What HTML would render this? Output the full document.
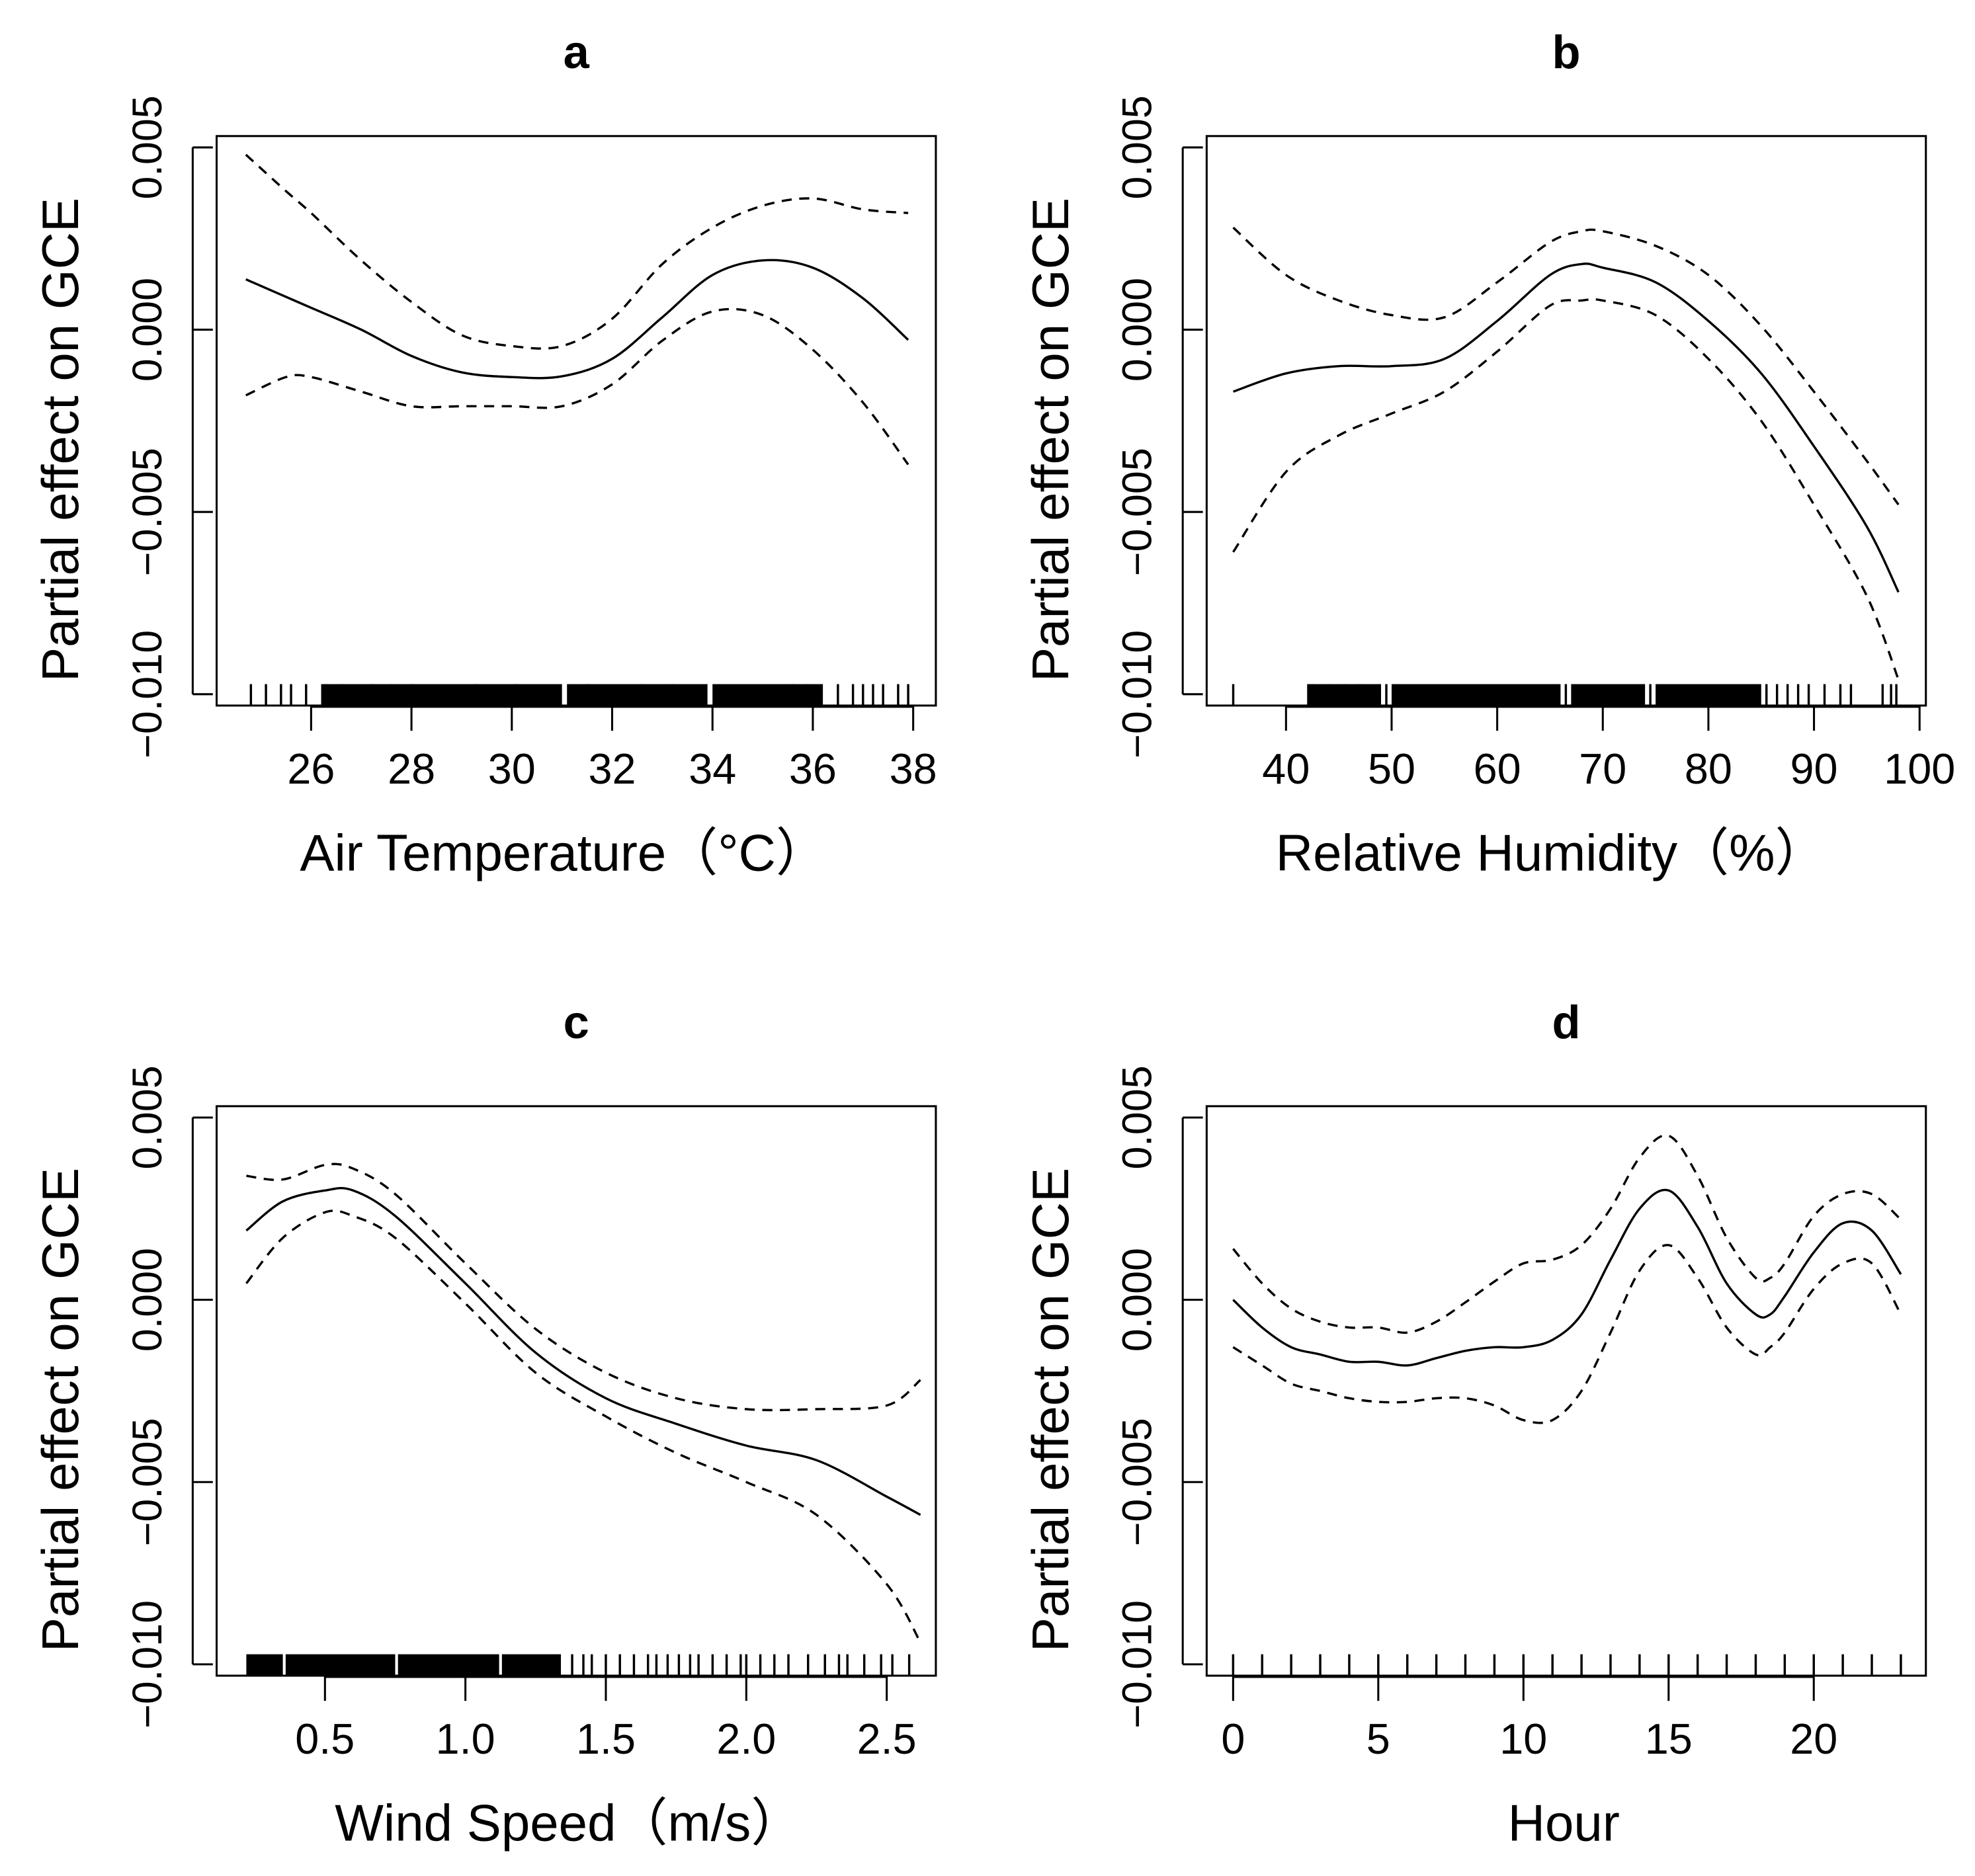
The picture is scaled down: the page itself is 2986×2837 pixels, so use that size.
<!DOCTYPE html>
<html><head><meta charset="utf-8"><style>
html,body{margin:0;padding:0;background:#fff;}
svg{display:block;}
text{font-family:"Liberation Sans","Noto Sans CJK SC",sans-serif;fill:#000;}
</style></head><body>
<svg id="fig" width="2986" height="2837" viewBox="0 0 1568 1489" preserveAspectRatio="none" xmlns="http://www.w3.org/2000/svg"></svg>
<script>
// ---- Panel a: Air Temperature ----
const aX = [24.7,25.5,26,27,28,29,30,31,32,33,34,35,36,37,37.9];
const aFit = [0.00138,0.0009,0.0006,0.0,-0.00072,-0.00117,-0.0013,-0.00128,-0.0008,0.00034,0.0015,0.0019,0.0017,0.00086,-0.00028];
const aUp = [0.0048,0.0038,0.0032,0.0019,0.00076,-0.00015,-0.00045,-0.00045,0.0003,0.0018,0.0028,0.0034,0.0036,0.0033,0.0032];
const aLo = [-0.0018,-0.0013,-0.0013,-0.0017,-0.0021,-0.0021,-0.0021,-0.0021,-0.0015,-0.0003,0.0005,0.0004,-0.00055,-0.002,-0.0037];
const aXTicks = [26,28,30,32,34,36,38];
const aRugBands = [[26.2,31.0],[31.1,33.9],[34.0,36.2]];
const aRug = [24.8,25.1,25.4,25.6,25.9,26.3,26.6,27.2,27.6,28.0,29.3,30.1,31.5,32.6,33.2,35.6,35.9,36.5,36.8,37.0,37.2,37.4,37.7,37.9];
// ---- Panel b: Relative Humidity ----
const bX = [35,40,45,50,55,60,65,68,70,75,80,85,90,95,98];
const bFit = [-0.0017,-0.0012,-0.001,-0.001,-0.0008,0.00024,0.0015,0.0018,0.0017,0.0013,0.00024,-0.0012,-0.0032,-0.0054,-0.0072];
const bUp = [0.0028,0.0015,0.0008,0.0004,0.00034,0.0013,0.0024,0.0027,0.0027,0.0023,0.0015,0.0001,-0.0017,-0.0036,-0.0048];
const bLo = [-0.0061,-0.0039,-0.0029,-0.0023,-0.0017,-0.0006,0.00066,0.0008,0.0008,0.0004,-0.0008,-0.0025,-0.0048,-0.0073,-0.0096];
const bXTicks = [40,50,60,70,80,90,100];
const bRugBands = [[42,49],[50,66],[67,74],[75,85]];
const bRug = [35,42.5,44,45.5,47,49.5,66.5,74.5,85.5,86.5,87.5,88.5,89.5,91,92.5,93.5,96.5,97.3,97.8];
// ---- Panel c: Wind Speed ----
const cX = [0.22,0.35,0.5,0.6,0.75,1.0,1.25,1.5,1.75,2.0,2.25,2.5,2.62];
const cFit = [0.0019,0.0027,0.003,0.003,0.0023,0.00045,-0.00145,-0.0027,-0.0034,-0.004,-0.0044,-0.0054,-0.0059];
const cUp = [0.0034,0.0033,0.0037,0.0036,0.0029,0.001,-0.0008,-0.002,-0.0027,-0.003,-0.003,-0.0029,-0.0022];
const cLo = [0.00045,0.0017,0.0024,0.0023,0.0017,-0.0001,-0.002,-0.0032,-0.0042,-0.005,-0.0059,-0.0078,-0.0094];
const cXTicks = [0.5,1.0,1.5,2.0,2.5];
const cXTickLabels = ["0.5","1.0","1.5","2.0","2.5"];
const cRugBands = [[0.22,0.35],[0.36,0.75],[0.76,1.12],[1.13,1.34]];
const cRug = [1.38,1.42,1.45,1.5,1.55,1.6,1.65,1.68,1.72,1.76,1.8,1.83,1.88,1.93,1.98,2.0,2.05,2.1,2.15,2.22,2.28,2.33,2.36,2.42,2.48,2.52,2.58];
// ---- Panel d: Hour ----
const dX = [0,1,2,3,4,5,6,7,8,9,10,11,12,13,14,15,16,17,18,18.5,19,20,21,22,23];
const dFit = [0,-0.00076,-0.0013,-0.0015,-0.0017,-0.0017,-0.0018,-0.0016,-0.0014,-0.0013,-0.0013,-0.0011,-0.0004,0.0011,0.0025,0.003,0.002,0.00045,-0.0004,-0.0004,0.0001,0.0013,0.0021,0.0019,0.0007];
const dUp = [0.0014,0.00045,-0.00024,-0.0006,-0.00076,-0.00076,-0.0009,-0.0006,-0.00007,0.0005,0.001,0.0011,0.0015,0.0025,0.0039,0.0045,0.0034,0.0017,0.0006,0.0006,0.001,0.0023,0.0029,0.0029,0.0022];
const dLo = [-0.0013,-0.0018,-0.0023,-0.0025,-0.0027,-0.0028,-0.0028,-0.0027,-0.0027,-0.0029,-0.0033,-0.0033,-0.0025,-0.0009,0.0008,0.0015,0.0006,-0.00076,-0.0015,-0.0013,-0.0009,0.0003,0.001,0.001,-0.0004];
const dXTicks = [0,5,10,15,20];
const dRug = [0,1,2,3,4,5,6,7,8,9,10,11,12,13,14,15,16,17,18,19,20,21,22,23];

const yTicks = [0.005,0.000,-0.005,-0.010];
const yTickLabels = ["0.005","0.000","\u22120.005","\u22120.010"];

const NS = "http://www.w3.org/2000/svg";
const svg = document.getElementById('fig');
function mk(tag, attrs, parent){const e=document.createElementNS(NS,tag);for(const k in attrs)e.setAttribute(k,attrs[k]);(parent||svg).appendChild(e);return e;}

function smoothPath(pts){
  let d = `M${pts[0][0]},${pts[0][1]}`;
  for(let i=0;i<pts.length-1;i++){
    const p0=pts[i-1]||pts[i], p1=pts[i], p2=pts[i+1], p3=pts[i+2]||p2;
    const c1=[p1[0]+(p2[0]-p0[0])/6, p1[1]+(p2[1]-p0[1])/6];
    const c2=[p2[0]-(p3[0]-p1[0])/6, p2[1]-(p3[1]-p1[1])/6];
    d += ` C${c1[0]},${c1[1]} ${c2[0]},${c2[1]} ${p2[0]},${p2[1]}`;
  }
  return d;
}

function panel(o){
  const g = mk('g',{});
  
  
  const L=o.left, R=o.left+571, T=o.top, B=o.top+452;
  const y0 = T+9, y1 = T+443;
  const ys = v => y0 + (0.005 - v)/0.015*(y1-y0);
  const xs = v => o.px0 + (v-o.v0)*o.ppu;
  const fr = mk('rect',{x:L,y:T,width:R-L,height:B-T,fill:'none',stroke:'#000','stroke-width':1.6},g);
  
  
  const t = mk('text',{x:(L+R)/2,y:T-54,'text-anchor':'middle','font-size':37,'font-weight':'bold'},g);
  t.textContent=o.id;
  
  
  mk('line',{x1:L-19,x2:L-19,y1:y0,y2:y1,stroke:'#000','stroke-width':1.6},g);
  yTicks.forEach((v,i)=>{
    mk('line',{x1:L-19,x2:L-3,y1:ys(v),y2:ys(v),stroke:'#000','stroke-width':1.6},g);
    const tx = mk('text',{x:0,y:0,'text-anchor':'middle','font-size':33,transform:`translate(${L-44},${ys(v)}) rotate(-90)`},g);
    tx.textContent = yTickLabels[i];
    
    
  });
  const yl = mk('text',{x:0,y:0,'text-anchor':'middle','font-size':41,transform:`translate(${L-110},${(T+B)/2+15}) rotate(-90)`},g);
  yl.textContent='Partial effect on GCE';
  
  
  const tk = o.ticks;
  mk('line',{x1:xs(tk[0]),x2:xs(tk[tk.length-1]),y1:B+1,y2:B+1,stroke:'#000','stroke-width':1.6},g);
  tk.forEach((v,i)=>{
    mk('line',{x1:xs(v),x2:xs(v),y1:B,y2:B+20,stroke:'#000','stroke-width':1.6},g);
    const tx = mk('text',{x:xs(v),y:B+62,'text-anchor':'middle','font-size':34},g);
    tx.textContent = o.tickLabels ? o.tickLabels[i] : String(v);
    
    
  });
  const xl = mk('text',{x:(L+R)/2+o.xlOff,y:B+131,'text-anchor':'middle','font-size':41},g);
  xl.textContent=o.xlabel;
  
  
  (o.bands||[]).forEach(b=>{
    const r = mk('rect',{x:xs(b[0]),y:y1-8,width:xs(b[1])-xs(b[0]),height:B-(y1-8),fill:'#000'},g);
    
    
  });
  o.rug.forEach(v=>{
    const l = mk('line',{x1:xs(v),x2:xs(v),y1:y1-8,y2:B,stroke:'#000','stroke-width':1.8},g);
    
    
  });
  const series = [[o.fit,'fit-line',null],[o.up,'upper-ci-line','8,6'],[o.lo,'lower-ci-line','8,6']];
  series.forEach(s=>{
    const pts = o.x.map((xv,i)=>[xs(xv), ys(s[0][i])]);
    const at = {d:smoothPath(pts),fill:'none',stroke:'#000','stroke-width':1.8};
    if(s[2]) at['stroke-dasharray']=s[2];
    const p = mk('path',at,g);
    
    
  });
}

panel({id:'a',left:172,top:108,px0:247,v0:26,ppu:(725-247)/12,ticks:aXTicks,x:aX,fit:aFit,up:aUp,lo:aLo,bands:aRugBands,rug:aRug,xlabel:'Air Temperature\uFF08\u00B0C\uFF09',xlOff:-10});
panel({id:'b',left:958,top:108,px0:1021,v0:40,ppu:(1524-1021)/60,ticks:bXTicks,x:bX,fit:bFit,up:bUp,lo:bLo,bands:bRugBands,rug:bRug,xlabel:'Relative Humidity\uFF08%\uFF09',xlOff:-12});
panel({id:'c',left:172,top:878,px0:258,v0:0.5,ppu:(704-258)/2,ticks:cXTicks,tickLabels:cXTickLabels,x:cX,fit:cFit,up:cUp,lo:cLo,bands:cRugBands,rug:cRug,xlabel:'Wind Speed\uFF08m/s\uFF09',xlOff:-6});
panel({id:'d',left:958,top:878,px0:979,v0:0,ppu:(1440-979)/20,ticks:dXTicks,x:dX,fit:dFit,up:dUp,lo:dLo,bands:[],rug:dRug,xlabel:'Hour',xlOff:-2});
</script>
</body></html>
